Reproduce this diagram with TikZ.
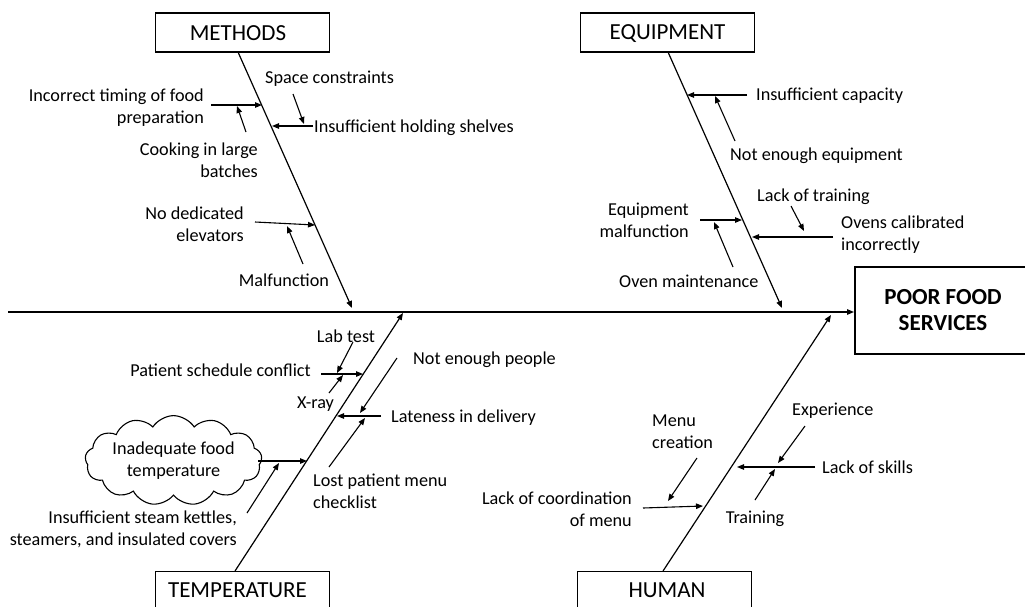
\documentclass[tikz,border=0pt]{standalone}
\usepackage{fontspec}
\setmainfont{Carlito}
\usetikzlibrary{arrows.meta,shapes.symbols}

\tikzset{
  tip/.style={-{Triangle[length=7pt,width=5.5pt]}},
  bone/.style={line width=1.2pt, tip},
  twig/.style={line width=1.1pt, tip},
  cause/.style={font=\fontsize{18.2}{22}\selectfont, inner sep=0pt, yshift=-1.5pt},
  catbox/.style={draw, line width=1.2pt, minimum width=174pt, minimum height=39pt, inner sep=0pt},
  cattext/.style={font=\fontsize{23}{26}\selectfont, inner sep=0pt},
  effectbox/.style={draw, line width=2pt, font=\bfseries\fontsize{23}{26}\selectfont,
    minimum width=176pt, minimum height=87pt, align=center, inner sep=0pt},
}

\begin{document}
\begin{tikzpicture}[x=1pt,y=-1pt]
\useasboundingbox (0,0) rectangle (1025,606);
\clip (0,0) rectangle (1025,606);

% effect box and main spine
\node[effectbox] (effect) at (943,310.5) {POOR FOOD\\SERVICES};
\coordinate (spineL) at (8,312);
\draw[bone] (spineL) -- (spineL -| effect.west);

% category boxes, each label centred over its bone
\node[catbox, label={[cattext, xshift=-4.5pt, yshift=-1pt]center:METHODS}] (methods) at (242.5,32.5) {};
\node[catbox, label={[cattext, yshift=-1pt]center:EQUIPMENT}] (equip) at (667.5,32.5) {};
\node[catbox, anchor=north, minimum height=40pt,
      label={[cattext, xshift=-5pt, yshift=1pt]center:TEMPERATURE}] (temp) at (242.5,571) {};
\node[catbox, anchor=north, minimum height=40pt,
      label={[cattext, xshift=2.5pt, yshift=1pt]center:HUMAN}] (human) at (664.5,571) {};

% main bones
\coordinate (mTop) at (238,52);   \coordinate (mEnd) at (352,308);
\coordinate (eTop) at (668,52);   \coordinate (eEnd) at (782,308);
\coordinate (tBot) at (235,571);  \coordinate (tEnd) at (403,313);
\coordinate (hBot) at (663,571);  \coordinate (hEnd) at (831,315);
\draw[bone] (mTop) -- (mEnd);
\draw[bone] (eTop) -- (eEnd);
\draw[bone] (tBot) -- (tEnd);
\draw[bone] (hBot) -- (hEnd);

% ---------- METHODS ----------
\node[cause, align=right, anchor=east] (m1) at (204,106) {Incorrect timing of food\\preparation};
\node[cause, align=right, anchor=east] (m2) at (258,159) {Cooking in large\\batches};
\node[cause, anchor=west] (m3) at (265,77) {Space constraints};
\node[cause, anchor=west] (m4) at (314,126) {Insufficient holding shelves};
\node[cause, align=right, anchor=east] (m5) at (244,222.5) {No dedicated\\elevators};
\node[cause] (m6) at (284,279) {Malfunction};

\coordinate (m1s) at (211,105); \coordinate (m1e) at (262,105);
\coordinate (m2s) at (246,132); \coordinate (m2e) at (237,106);
\coordinate (m3s) at (293,94);  \coordinate (m3e) at (304,124);
\coordinate (m4s) at (313,126); \coordinate (m4e) at (272,126);
\coordinate (m5s) at (255,222); \coordinate (m5e) at (315,225);
\coordinate (m6s) at (303,264); \coordinate (m6e) at (287,226);
\foreach \k in {1,...,6} \draw[twig] (m\k s) -- (m\k e);

% ---------- EQUIPMENT ----------
\node[cause, anchor=west] (e1) at (756,94) {Insufficient capacity};
\node[cause, anchor=west] (e2) at (730,154) {Not enough equipment};
\node[cause, anchor=west] (e3) at (757,195) {Lack of training};
\node[cause, align=left, anchor=west] (e4) at (841,233) {Ovens calibrated\\incorrectly};
\node[cause, align=right, anchor=east] (e5) at (689,219) {Equipment\\malfunction};
\node[cause, anchor=west] (e6) at (619,280) {Oven maintenance};

\coordinate (e1s) at (747,95);  \coordinate (e1e) at (687,95);
\coordinate (e2s) at (735,141); \coordinate (e2e) at (715,96);
\coordinate (e3s) at (791,206); \coordinate (e3e) at (804,231);
\coordinate (e4s) at (833,237); \coordinate (e4e) at (752,237);
\coordinate (e5s) at (700,220); \coordinate (e5e) at (742,220);
\coordinate (e6s) at (733,267); \coordinate (e6e) at (714,222);
\foreach \k in {1,...,6} \draw[twig] (e\k s) -- (e\k e);

% ---------- TEMPERATURE ----------
\node[cause] (t1) at (346,335) {Lab test};
\node[cause, anchor=east] (t2) at (311,369) {Patient schedule conflict};
\node[cause] (t3) at (315.5,403) {X-ray};
\node[cause, anchor=west] (t4) at (413,358) {Not enough people};
\node[cause, anchor=west] (t5) at (391,416) {Lateness in delivery};
\node[cause, align=left, anchor=west] (t6) at (313,490) {Lost patient menu\\checklist};
\node[cause, yshift=1.5pt, draw, line width=1.1pt, cloud, cloud puffs=13, cloud puff arc=115,
      aspect=2.5, minimum width=166pt, minimum height=72pt, align=center]
      (t7) at (173.5,460.5) {Inadequate food\\temperature};
\node[cause, align=right, anchor=east] (t8) at (237,527.5) {Insufficient steam kettles,\\steamers, and insulated covers};

\coordinate (t1s) at (353,342); \coordinate (t1e) at (337,373);
\coordinate (t2s) at (321,374); \coordinate (t2e) at (363,374);
\coordinate (t3s) at (329,393); \coordinate (t3e) at (343,375);
\coordinate (t4s) at (397,358); \coordinate (t4e) at (360,413);
\coordinate (t5s) at (381,416); \coordinate (t5e) at (337,416);
\coordinate (t6s) at (329,467); \coordinate (t6e) at (365,418);
\coordinate (t7s) at (258,461); \coordinate (t7e) at (307,461);
\coordinate (t8s) at (247,513); \coordinate (t8e) at (279,463);
\foreach \k in {1,...,8} \draw[twig] (t\k s) -- (t\k e);

% ---------- HUMAN ----------
\node[cause, align=left, anchor=west] (h1) at (652,430) {Menu\\creation};
\node[cause, align=right, anchor=east] (h2) at (632,507.5) {Lack of coordination\\of menu};
\node[cause, anchor=west] (h3) at (792,409) {Experience};
\node[cause, anchor=west] (h4) at (822,466) {Lack of skills};
\node[cause] (h5) at (755,517) {Training};

\coordinate (h1s) at (697,458); \coordinate (h1e) at (668,501);
\coordinate (h2s) at (643,508); \coordinate (h2e) at (703,506);
\coordinate (h3s) at (805,426); \coordinate (h3e) at (778,463);
\coordinate (h4s) at (815,467); \coordinate (h4e) at (737,467);
\coordinate (h5s) at (755,500); \coordinate (h5e) at (775,469);
\foreach \k in {1,...,5} \draw[twig] (h\k s) -- (h\k e);
\end{tikzpicture}
\end{document}
